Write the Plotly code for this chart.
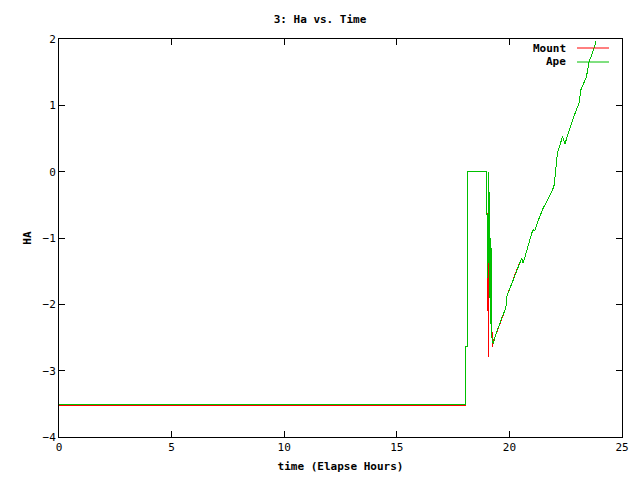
import plotly.graph_objects as go

# Ape (green) series
ape_t = [0, 18.05, 18.05, 18.12, 18.12, 18.15, 18.99, 19.0, 19.03, 19.05, 19.08, 19.1, 19.12, 19.15, 19.18, 19.22, 19.28,
         19.4, 19.55, 19.7, 19.84, 19.9, 20.0, 20.14, 20.3, 20.5, 20.55, 20.61, 20.75, 20.88, 21.0, 21.07, 21.12,
         21.32, 21.5, 21.7, 21.9, 21.99, 22.03, 22.13, 22.25, 22.35, 22.47, 22.55, 22.68, 22.85, 23.0, 23.09,
         23.17, 23.3, 23.42, 23.54, 23.7, 23.85]
ape_ha = [-3.51, -3.51, -2.63, -2.63, -0.88, 0.0, 0.0, -0.6, -1.6, -0.8, 0.0, -1.9, -0.3, -2.3, -1.0, -2.5, -2.60,
          -2.45, -2.3, -2.17, -2.06, -1.86, -1.78, -1.66, -1.5, -1.33, -1.30, -1.38, -1.2, -1.03, -0.92, -0.87, -0.89,
          -0.70, -0.55, -0.42, -0.29, -0.2, -0.02, 0.28, 0.4, 0.53, 0.42, 0.52, 0.65, 0.82, 0.95, 1.03,
          1.23, 1.33, 1.43, 1.66, 1.8, 1.97]

# Mount (red) series
mount_t = [0, 18.05, 18.05, 18.12, 18.12, 18.15, 18.99, 18.99, 19.0, 19.02, 19.03, 19.05, 19.06, 19.1, 19.13, 19.2, 19.25, 19.28,
           19.4, 19.55, 19.7, 19.84, 19.9, 20.0, 20.14, 20.3, 20.5, 20.55, 20.61, 20.75, 20.88, 21.0, 21.07, 21.12,
           21.32, 21.5, 21.7, 21.9, 21.99, 22.03, 22.13, 22.25, 22.35, 22.47, 22.55, 22.68, 22.85, 23.0, 23.09,
           23.17, 23.3, 23.42, 23.54, 23.7, 23.85]
mount_ha = [-3.525, -3.525, -2.63, -2.63, -0.88, 0.0, 0.0, -0.4, -0.7, -1.2, -2.1, -1.3, -2.8, -0.6, -1.35, -2.2, -2.65, -2.56,
            -2.45, -2.3, -2.17, -2.06, -1.86, -1.78, -1.66, -1.5, -1.33, -1.30, -1.38, -1.2, -1.03, -0.92, -0.87, -0.89,
            -0.70, -0.55, -0.42, -0.29, -0.2, -0.02, 0.28, 0.4, 0.53, 0.42, 0.52, 0.65, 0.82, 0.95, 1.03,
            1.23, 1.33, 1.43, 1.66, 1.8, 1.97]

series_names = ["Mount", "Ape"]
x_ticks = [0, 5, 10, 15, 20, 25]
y_ticks = [-4, -3, -2, -1, 0, 1, 2]

RED = "#ff0000"
GREEN = "#00c000"
FONT = "DejaVu Sans Mono"

fig = go.Figure()
fig.add_trace(go.Scatter(x=mount_t, y=mount_ha, mode="lines", name=series_names[0],
                         line=dict(color=RED, width=1), showlegend=False))
fig.add_trace(go.Scatter(x=ape_t, y=ape_ha, mode="lines", name=series_names[1],
                         line=dict(color=GREEN, width=1), showlegend=False))

axis_common = dict(showgrid=False, zeroline=False, showline=True, linecolor="black", linewidth=1,
                   mirror="ticks", ticks="inside", ticklen=6, tickcolor="black", automargin=False,
                   tickfont=dict(family=FONT, size=11, color="black"))

fig.update_layout(
    width=640, height=480,
    margin=dict(l=59, r=18, t=39, b=43),
    paper_bgcolor="white", plot_bgcolor="white",
    title=dict(text="<b>3: Ha vs. Time</b>", x=0.5, xanchor="center", y=1 - 19 / 480, yanchor="middle",
               font=dict(family=FONT, size=11, color="black")),
    xaxis=dict(range=[0, 25], tickvals=x_ticks,
               title=dict(text="<b>time (Elapse Hours)</b>", standoff=9,
                          font=dict(family=FONT, size=11, color="black")), **axis_common),
    yaxis=dict(range=[-4, 2], tickvals=y_ticks,
               title=dict(text="<b>HA</b>", standoff=8,
                          font=dict(family=FONT, size=11, color="black")), **axis_common),
)
fig.update_xaxes(tickprefix="<b>", ticksuffix="</b>")
fig.update_yaxes(tickprefix="<b>", ticksuffix="</b>")

# gnuplot-style legend (text left of sample line)
legend_rows = [(series_names[0], RED, 48), (series_names[1], GREEN, 62)]
for name, col, ypix in legend_rows:
    yp = 1 - (ypix - 39) / 398
    fig.add_annotation(x=(568 - 59) / 563, y=yp, xref="paper", yref="paper", text="<b>%s</b>" % name,
                       showarrow=False, xanchor="right", yanchor="middle",
                       font=dict(family=FONT, size=11, color="black"))
    fig.add_shape(type="line", xref="paper", yref="paper",
                  x0=(577 - 59) / 563, x1=(609 - 59) / 563, y0=yp, y1=yp,
                  line=dict(color=col, width=1))

post = ("document.body.style.margin='0';"
        "document.querySelectorAll('.scatterlayer path').forEach(function(p){p.style.shapeRendering='crispEdges';});")
fig.write_html("out.html", post_script=post, config={"displayModeBar": False})
